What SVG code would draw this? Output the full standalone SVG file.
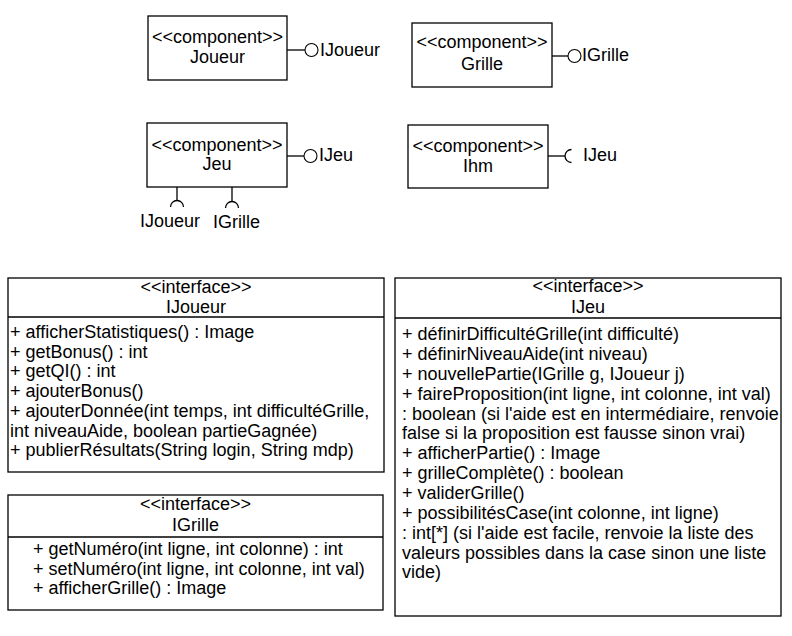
<svg xmlns="http://www.w3.org/2000/svg" width="792" height="636" viewBox="0 0 792 636">
<style>
text{font-family:"Liberation Sans",Arial,sans-serif;font-size:18px;fill:#000}
.c{text-anchor:middle}
.box{fill:#fff;stroke:#000;stroke-width:1.3}
.ln{fill:none;stroke:#000;stroke-width:1.3}
.ball{fill:#fff;stroke:#000;stroke-width:1.1}
</style>
<rect width="792" height="636" fill="#fff"/>
<g id="Joueur">
<rect class="box" x="148" y="16" width="139" height="64"/>
<text class="c" x="217.5" y="43">&lt;&lt;component&gt;&gt;</text>
<text class="c" x="217.5" y="63">Joueur</text>
</g>
<g id="Grille">
<rect class="box" x="412" y="23" width="140" height="64"/>
<text class="c" x="482" y="48">&lt;&lt;component&gt;&gt;</text>
<text class="c" x="482" y="70">Grille</text>
</g>
<g id="Jeu">
<rect class="box" x="147" y="123" width="140" height="64"/>
<text class="c" x="217" y="151">&lt;&lt;component&gt;&gt;</text>
<text class="c" x="217" y="170">Jeu</text>
</g>
<g id="Ihm">
<rect class="box" x="408" y="125" width="140" height="63"/>
<text class="c" x="478" y="152">&lt;&lt;component&gt;&gt;</text>
<text class="c" x="478" y="172">Ihm</text>
</g>
<g id="connectors">
<line class="ln" x1="287" y1="50" x2="305" y2="50"/>
<circle class="ball" cx="311.5" cy="50" r="6.5"/>
<text x="320" y="56">IJoueur</text>
<line class="ln" x1="552" y1="56" x2="568" y2="56"/>
<circle class="ball" cx="574.5" cy="56" r="6.5"/>
<text x="582" y="61">IGrille</text>
<line class="ln" x1="287" y1="156" x2="304" y2="156"/>
<circle class="ball" cx="310.5" cy="156" r="6.5"/>
<text x="319" y="161">IJeu</text>
<line class="ln" x1="177" y1="187" x2="177" y2="200"/>
<path class="ln" d="M170.5 207 A6.5 6.5 0 0 1 183.5 207"/>
<text x="140" y="227">IJoueur</text>
<line class="ln" x1="232" y1="187" x2="232" y2="201"/>
<path class="ln" d="M225.5 208 A6.5 6.5 0 0 1 238.5 208"/>
<text x="213" y="228">IGrille</text>
<line class="ln" x1="548" y1="156" x2="565" y2="156"/>
<path class="ln" d="M571.5 149.5 A6.5 6.5 0 0 0 571.5 162.5"/>
<text x="583" y="161">IJeu</text>
</g>
<g id="IJoueur">
<rect class="box" x="8" y="278" width="376" height="194"/>
<line class="ln" x1="8" y1="317" x2="384" y2="317"/>
<text class="c" x="196" y="293">&lt;&lt;interface&gt;&gt;</text>
<text class="c" x="196" y="313">IJoueur</text>
<text x="10" y="338">+ afficherStatistiques() : Image</text>
<text x="10" y="357.7">+ getBonus() : int</text>
<text x="10" y="377.4">+ getQI() : int</text>
<text x="10" y="397.1">+ ajouterBonus()</text>
<text x="10" y="416.8">+ ajouterDonnée(int temps, int difficultéGrille,</text>
<text x="10" y="436.5">int niveauAide, boolean partieGagnée)</text>
<text x="10" y="456.2">+ publierRésultats(String login, String mdp)</text>
</g>
<g id="IJeu">
<rect class="box" x="395" y="278" width="386" height="338"/>
<line class="ln" x1="395" y1="318" x2="781" y2="318"/>
<text class="c" x="588" y="292">&lt;&lt;interface&gt;&gt;</text>
<text class="c" x="588" y="313">IJeu</text>
<text x="402" y="340">+ définirDifficultéGrille(int difficulté)</text>
<text x="402" y="359.9">+ définirNiveauAide(int niveau)</text>
<text x="402" y="379.7">+ nouvellePartie(IGrille g, IJoueur j)</text>
<text x="402" y="399.6">+ faireProposition(int ligne, int colonne, int val)</text>
<text x="402" y="419.5">: boolean (si l'aide est en intermédiaire, renvoie</text>
<text x="402" y="439.4">false si la proposition est fausse sinon vrai)</text>
<text x="402" y="459.2">+ afficherPartie() : Image</text>
<text x="402" y="479.1">+ grilleComplète() : boolean</text>
<text x="402" y="499">+ validerGrille()</text>
<text x="402" y="518.8">+ possibilitésCase(int colonne, int ligne)</text>
<text x="402" y="538.7">: int[*] (si l'aide est facile, renvoie la liste des</text>
<text x="402" y="558.6">valeurs possibles dans la case sinon une liste</text>
<text x="402" y="578.4">vide)</text>
</g>
<g id="IGrille">
<rect class="box" x="8" y="495" width="375" height="115"/>
<line class="ln" x1="8" y1="537" x2="383" y2="537"/>
<text class="c" x="195.5" y="510">&lt;&lt;interface&gt;&gt;</text>
<text class="c" x="195.5" y="531">IGrille</text>
<text x="33" y="555">+ getNuméro(int ligne, int colonne) : int</text>
<text x="33" y="575">+ setNuméro(int ligne, int colonne, int val)</text>
<text x="33" y="594">+ afficherGrille() : Image</text>
</g>
</svg>
